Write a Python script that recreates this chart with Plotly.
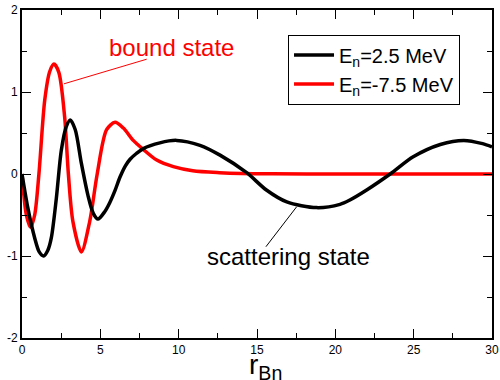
import plotly.graph_objects as go

# ---- data ----
r_scatt = [0, 0.38, 0.81, 1.1, 1.38, 1.65, 1.87, 2.19, 2.51, 2.83, 3.08, 3.4, 3.79, 4.21, 4.55, 4.85, 5.28,
           5.6, 5.94, 6.25, 6.6, 6.9, 7.3, 7.74, 8.8, 9.87, 11.36, 12.64, 14.34, 15.6, 16.9, 18.8, 20.3, 20.9,
           22.0, 23.5, 24.97, 26.7, 28.2, 29.4, 30]
psi_scatt = [0, -0.42, -0.78, -0.95, -1.0, -0.93, -0.78, -0.3, 0.29, 0.58, 0.66, 0.54, 0.13, -0.26, -0.48, -0.55, -0.46,
             -0.35, -0.2, -0.04, 0.1, 0.18, 0.25, 0.31, 0.38, 0.41, 0.35, 0.23, 0.016, -0.195, -0.34, -0.41, -0.37, -0.32,
             -0.195, 0.0, 0.21, 0.36, 0.41, 0.37, 0.33]

r_bound = [0, 0.28, 0.55, 0.81, 1.08, 1.45, 1.77, 2.04, 2.35, 2.72, 2.96, 3.25, 3.79, 4.32, 4.8,
           5.4, 5.94, 6.47, 7.1, 7.74, 8.6, 9.66, 10.9, 12.6, 14, 16, 20, 25, 30]
psi_bound = [0, -0.5, -0.65, -0.5, 0.0, 0.9, 1.25, 1.34, 1.24, 0.70, 0.0, -0.58, -0.95, -0.58, 0.0,
             0.54, 0.63, 0.56, 0.41, 0.30, 0.17, 0.09, 0.04, 0.016, 0.006, 0.002, 0, 0, 0]

series_names = ["E<sub>n</sub>=2.5 MeV", "E<sub>n</sub>=-7.5 MeV"]
x_ticks = [0, 5, 10, 15, 20, 25, 30]
y_ticks = [-2, -1, 0, 1, 2]
y_tick_labels = ["-2", "-1", "0", "1", "2"]
label_bound = "bound state"
label_scatt = "scattering state"
x_title = "r<sub>Bn</sub>"

FONT = "Liberation Sans, Arial, sans-serif"

fig = go.Figure()
fig.add_trace(go.Scatter(x=r_bound, y=psi_bound, mode="lines", name=series_names[1],
                         line=dict(color="#ff0000", width=3.5, shape="spline", smoothing=0.8),
                         legendrank=2))
fig.add_trace(go.Scatter(x=r_scatt, y=psi_scatt, mode="lines", name=series_names[0],
                         line=dict(color="#000000", width=3.5, shape="spline", smoothing=0.8),
                         legendrank=1))

# annotation pointers
fig.add_shape(type="line", x0=7.96, y0=1.40, x1=2.68, y1=1.10, line=dict(color="#ff0000", width=1))
fig.add_shape(type="line", x0=15.57, y0=-0.887, x1=17.53, y1=-0.40, line=dict(color="#000000", width=1))
fig.add_annotation(x=9.57, y=1.54, text=label_bound, showarrow=False,
                   font=dict(family=FONT, size=24, color="#ff0000"))
fig.add_annotation(x=17.04, y=-1.01, text=label_scatt, showarrow=False,
                   font=dict(family=FONT, size=24, color="#000000"))
# x axis title (placed as in the reference, slightly right of centre)
fig.add_annotation(xref="paper", yref="paper", x=0.519, y=-0.026, xanchor="center", yanchor="top",
                   text=x_title, showarrow=False,
                   font=dict(family=FONT, size=28, color="black"))

axis_common = dict(showline=True, linecolor="black", linewidth=2, mirror="allticks",
                   ticks="inside", ticklen=9, tickwidth=1, tickcolor="black",
                   showgrid=False, zeroline=False, automargin=False,
                   tickfont=dict(family=FONT, size=12, color="black"))

fig.update_xaxes(range=[0, 30], tickmode="array", tickvals=x_ticks,
                 minor=dict(tickmode="array", tickvals=[2.5, 7.5, 12.5, 17.5, 22.5, 27.5],
                            ticks="inside", ticklen=5, tickcolor="black"),
                 **axis_common)
fig.update_yaxes(range=[-2, 2], tickmode="array", tickvals=y_ticks, ticktext=y_tick_labels,
                 minor=dict(tickmode="array", tickvals=[-1.5, -0.5, 0.5, 1.5],
                            ticks="inside", ticklen=5, tickcolor="black"),
                 **axis_common)

fig.update_layout(
    width=500, height=380,
    margin=dict(l=22, r=8, t=10, b=42, autoexpand=False),
    paper_bgcolor="white", plot_bgcolor="white",
    font=dict(family=FONT, color="black"),
    showlegend=True,
    legend=dict(x=0.566, y=0.925, xanchor="left", yanchor="top",
                bordercolor="black", borderwidth=1, bgcolor="white",
                font=dict(family=FONT, size=20, color="black"),
                itemwidth=40, tracegroupgap=0),
)

fig.write_html("out.html", config={"displayModeBar": False},
               post_script="document.body.style.margin='0';")
